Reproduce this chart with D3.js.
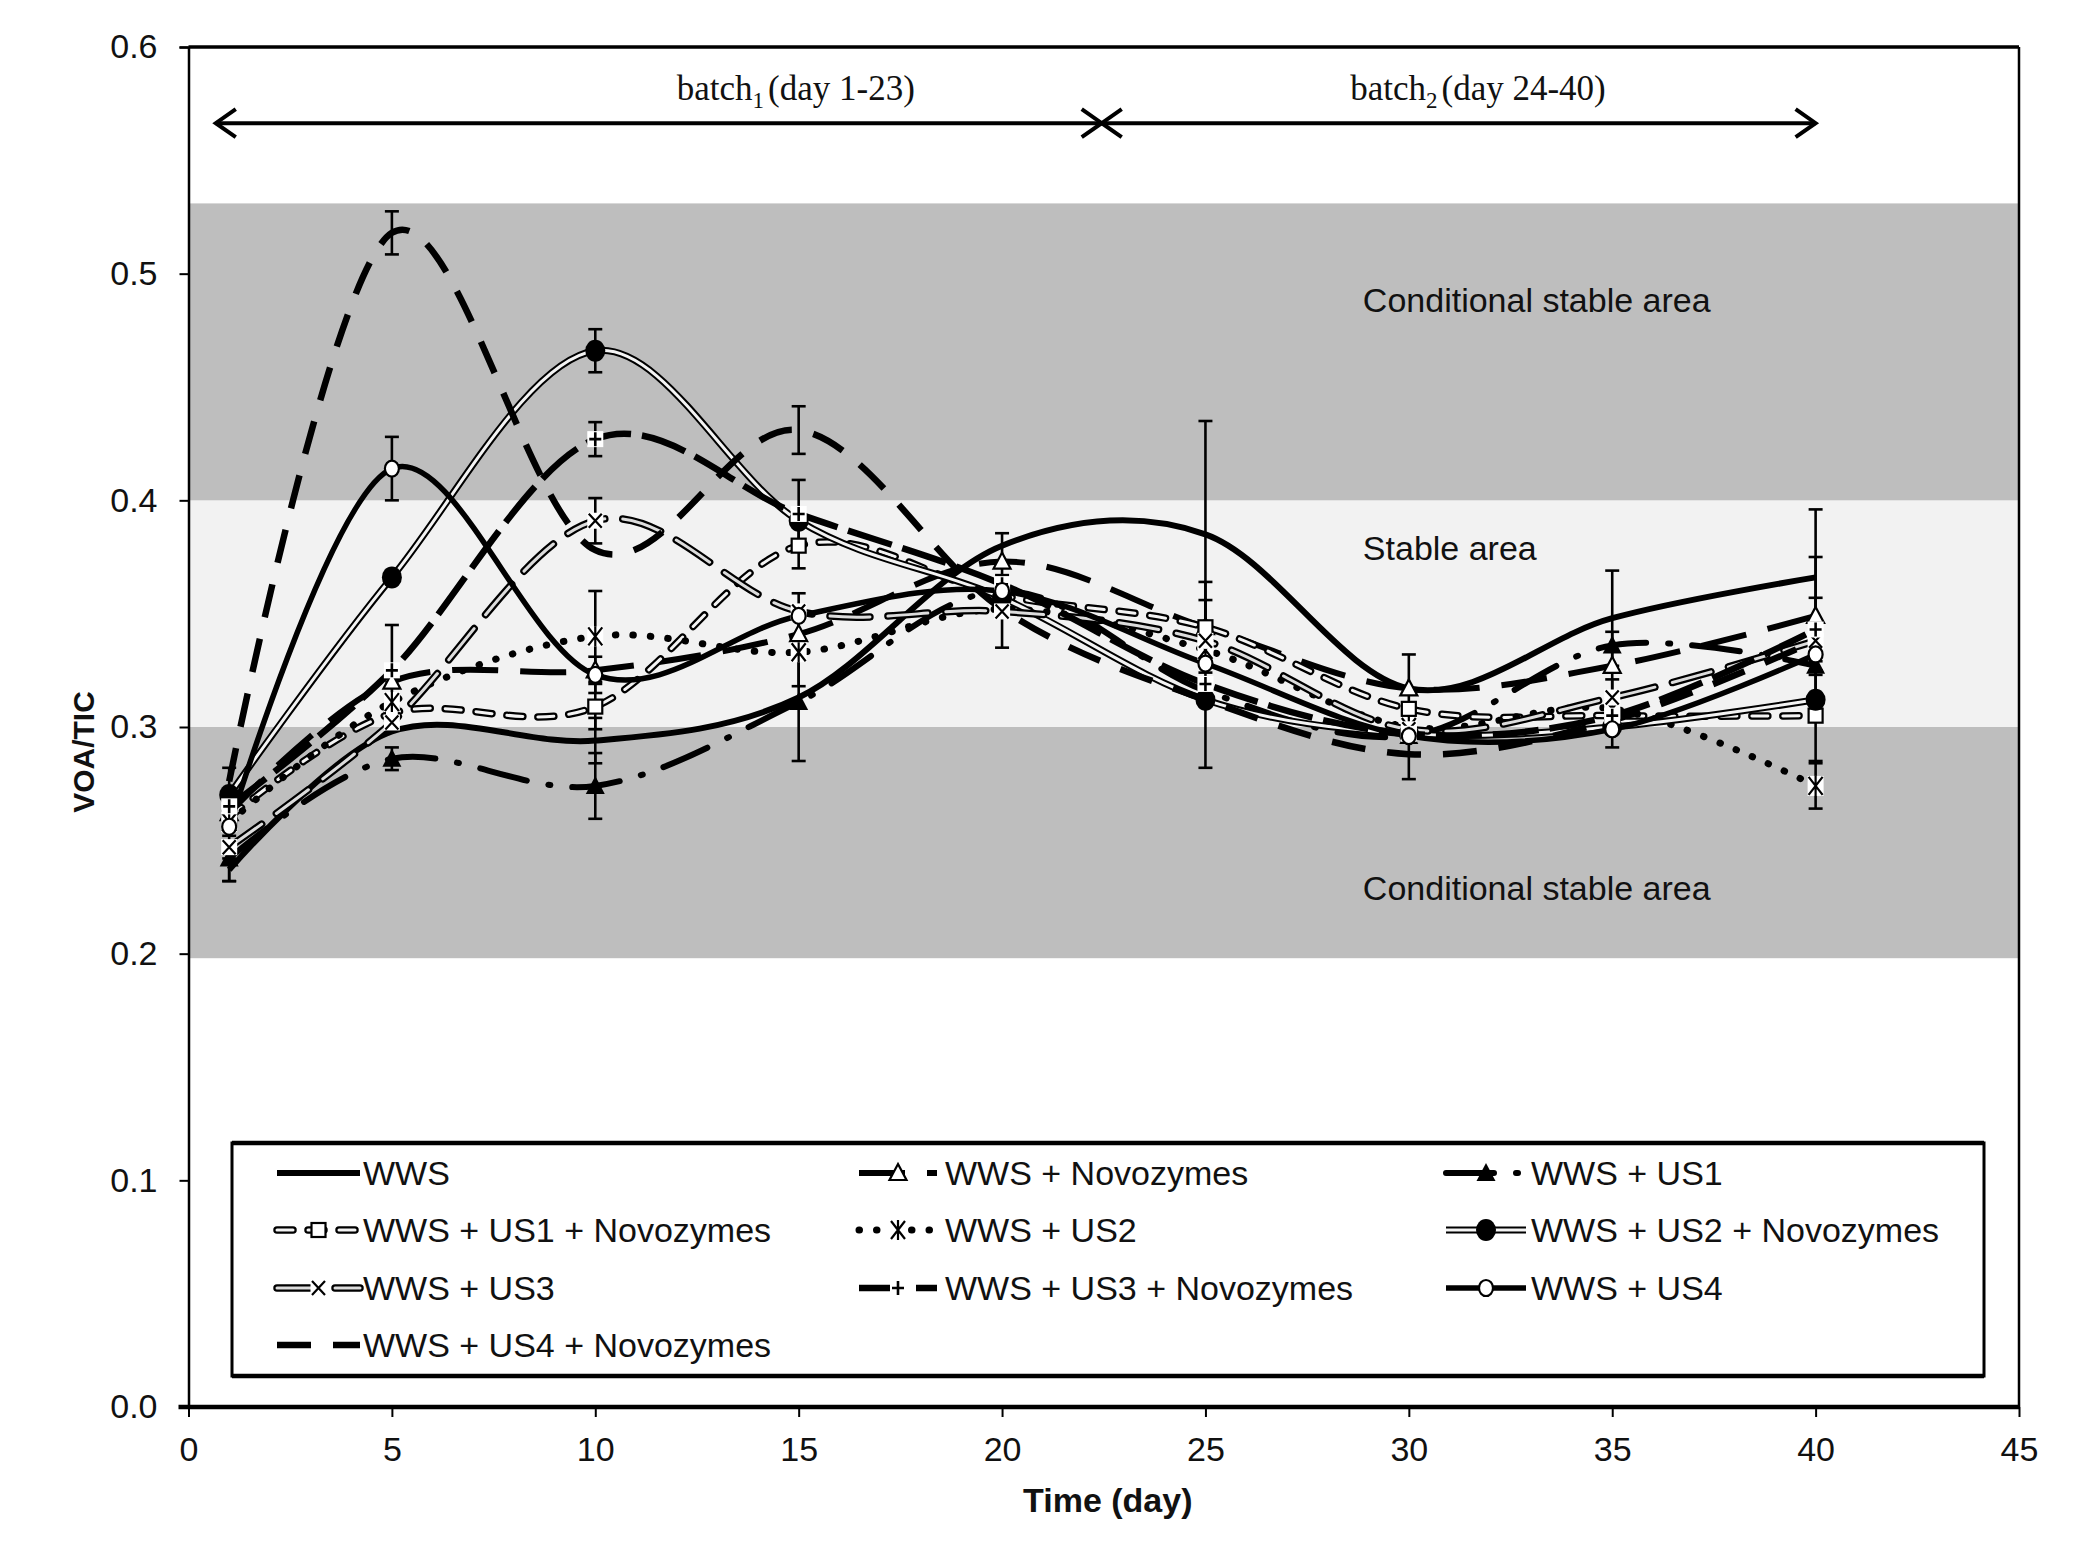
<!DOCTYPE html>
<html><head><meta charset="utf-8">
<script src="https://cdn.jsdelivr.net/npm/d3@7"></script>
<style>body{margin:0;background:#fff}svg{display:block}</style>
</head><body>
<svg id="chart" width="2097" height="1555"></svg>
<script>
// ---------------- data ----------------
const days = [1, 5, 10, 15, 20, 25, 30, 35, 40];
const seriesNames = ["WWS", "WWS + Novozymes", "WWS + US1", "WWS + US1 + Novozymes", "WWS + US2",
  "WWS + US2 + Novozymes", "WWS + US3", "WWS + US3 + Novozymes", "WWS + US4", "WWS + US4 + Novozymes"];
const wws      = [0.237, 0.298, 0.294, 0.313, 0.380, 0.385, 0.317, 0.348, 0.366];
const wwsNovo  = [0.262, 0.320, 0.325, 0.341, 0.373, 0.344, 0.317, 0.327, 0.349];
const us1      = [0.242, 0.286, 0.274, 0.311, 0.360, 0.316, 0.296, 0.336, 0.327];
const us1Novo  = [0.260, 0.306, 0.309, 0.380, 0.358, 0.344, 0.308, 0.305, 0.305];
const us2      = [0.258, 0.311, 0.340, 0.333, 0.352, 0.334, 0.300, 0.308, 0.274];
const us2Novo  = [0.270, 0.366, 0.466, 0.391, 0.357, 0.312, 0.297, 0.300, 0.312];
const us3      = [0.247, 0.302, 0.391, 0.351, 0.351, 0.338, 0.299, 0.313, 0.338];
const us3Novo  = [0.265, 0.325, 0.427, 0.394, 0.363, 0.319, 0.297, 0.305, 0.343];
const us4      = [0.256, 0.414, 0.323, 0.349, 0.360, 0.328, 0.296, 0.299, 0.332];
const us4Novo  = [0.276, 0.518, 0.378, 0.431, 0.352, 0.312, 0.288, 0.303, 0.338];
// +/- error values
const wwsErr     = [0.005, 0, 0.010, 0, 0, 0.050, 0, 0.021, 0.030];
const wwsNovoErr = [0, 0, 0, 0, 0.0125, 0, 0.015, 0.015, 0.026];
const us1Err     = [0.010, 0.005, 0.0145, 0.026, 0, 0, 0, 0, 0.020];
const us1NovoErr = [0, 0, 0.010, 0.010, 0, 0.020, 0, 0, 0.020];
const us2Err     = [0, 0, 0.020, 0.015, 0, 0, 0, 0, 0.010];
const us2NovoErr = [0.012, 0, 0.0095, 0, 0, 0, 0, 0, 0];
const us3Err     = [0, 0, 0.010, 0, 0.016, 0, 0, 0.008, 0];
const us3NovoErr = [0, 0.020, 0.0075, 0.015, 0, 0.037, 0, 0, 0.014];
const us4Err     = [0, 0.014, 0.008, 0.010, 0, 0, 0, 0.008, 0];
const us4NovoErr = [0, 0.0095, 0, 0.0105, 0, 0, 0.011, 0, 0];
const seriesValues = [wws, wwsNovo, us1, us1Novo, us2, us2Novo, us3, us3Novo, us4, us4Novo];
const seriesErrors = [wwsErr, wwsNovoErr, us1Err, us1NovoErr, us2Err, us2NovoErr, us3Err, us3NovoErr, us4Err, us4NovoErr];
const xTicks = [0, 5, 10, 15, 20, 25, 30, 35, 40, 45];
const yTicks = [0, 0.1, 0.2, 0.3, 0.4, 0.5, 0.6];
const bandBounds = [[0.198, 0.300, "dark"], [0.300, 0.400, "light"], [0.400, 0.531, "dark"]];
const bandLabels = ["Conditional stable area", "Stable area", "Conditional stable area"];
const batchRanges = [[0.67, 22.45], [22.45, 40]];
const batchLabels = [["batch", "1", "(day 1-23)"], ["batch", "2", "(day 24-40)"]];

// ---------------- styles ----------------
const styles = [
  {w: 6, dash: null, marker: null},
  {w: 6, dash: "46,22", marker: "triangle"},
  {w: 6, dash: "48,22,2,22", cap: "round", marker: "triangleFilled"},
  {w: 7.5, dash: "16,15", cap: "round", inner: 3, innerColor: "#f4f4f4", marker: "square"},
  {w: 7, dash: "0.5,17", cap: "round", marker: "asterisk"},
  {w: 7, dash: null, inner: 3, innerColor: "#f4f4f4", marker: "circleFilled"},
  {w: 7.5, dash: "40,18", cap: "round", inner: 3, innerColor: "#dcdcdc", marker: "x"},
  {w: 6.5, dash: "46,11", marker: "plus"},
  {w: 5.5, dash: null, marker: "circle"},
  {w: 6.5, dash: "34,22", marker: null}
];

const svg = d3.select("#chart");
const x = d3.scaleLinear().domain([0, 45]).range([188.5, 2019]);
const y = d3.scaleLinear().domain([0, 0.6]).range([1407, 47]);
const SANS = "'Liberation Sans', Arial, sans-serif";
const SERIF = "'Liberation Serif', 'Times New Roman', serif";

svg.append("rect").attr("width", 2097).attr("height", 1555).attr("fill", "#fff");

// bands
svg.append("g").selectAll("rect").data(bandBounds).join("rect")
  .attr("x", x(0)).attr("width", x(45) - x(0))
  .attr("y", d => y(d[1])).attr("height", d => y(d[0]) - y(d[1]))
  .attr("fill", d => d[2] === "dark" ? "#bebebe" : "#f2f2f2");

// band labels
const bandLabelY = [0.483, 0.3735, 0.2238];
svg.append("g").selectAll("text").data(bandLabels).join("text")
  .attr("x", x(28.87)).attr("y", (d, i) => y(bandLabelY[i]))
  .attr("font-family", SANS).attr("font-size", 34).attr("fill", "#111")
  .text(d => d);

// batch arrows
const arrowY = 0.5664;
const ag = svg.append("g").attr("stroke", "#000").attr("stroke-width", 4).attr("fill", "none");
batchRanges.forEach(r => {
  const x1 = x(r[0]), x2 = x(r[1]), yy = y(arrowY);
  ag.append("line").attr("x1", x1).attr("x2", x2).attr("y1", yy).attr("y2", yy);
  ag.append("path").attr("d", `M${x1 + 20},${yy - 14}L${x1},${yy}L${x1 + 20},${yy + 14}`);
  ag.append("path").attr("d", `M${x2 - 20},${yy - 14}L${x2},${yy}L${x2 - 20},${yy + 14}`);
});
const batchCenters = [14.93, 31.7];
batchLabels.forEach((b, i) => {
  const t = svg.append("text").attr("x", x(batchCenters[i])).attr("y", y(0.5765))
    .attr("text-anchor", "middle").attr("font-family", SERIF).attr("font-size", 35).attr("fill", "#111");
  t.append("tspan").text(b[0]);
  t.append("tspan").attr("font-size", 23).attr("dy", 8).text(b[1]);
  t.append("tspan").attr("dy", -8).attr("dx", 4).text(b[2]);
});

// lines
const line = d3.line().x(d => x(d[0])).y(d => y(d[1])).curve(d3.curveCardinal.tension(0));
const linesG = svg.append("g").attr("fill", "none");
function drawStroke(g, st, attrsFn) {
  const p = attrsFn(g.append("path"))
    .attr("stroke", "#000").attr("stroke-width", st.w)
    .attr("stroke-linecap", st.cap || "butt").attr("stroke-linejoin", "round");
  if (st.dash) p.attr("stroke-dasharray", st.dash);
  if (st.inner) {
    const q = attrsFn(g.append("path"))
      .attr("stroke", st.innerColor).attr("stroke-width", st.inner)
      .attr("stroke-linecap", st.cap || "butt").attr("stroke-linejoin", "round");
    if (st.dash) q.attr("stroke-dasharray", st.dash);
  }
}
seriesValues.forEach((vals, i) => {
  const pts = days.map((d, j) => [d, vals[j]]);
  drawStroke(linesG, styles[i], p => p.attr("d", line(pts)));
});

// error bars
const eg = svg.append("g").attr("stroke", "#000").attr("stroke-width", 2.6);
seriesValues.forEach((vals, i) => {
  days.forEach((d, j) => {
    const e = seriesErrors[i][j];
    if (!e) return;
    const cx = x(d), y1 = y(vals[j] + e), y2 = y(vals[j] - e);
    eg.append("line").attr("x1", cx).attr("x2", cx).attr("y1", y1).attr("y2", y2);
    eg.append("line").attr("x1", cx - 7).attr("x2", cx + 7).attr("y1", y1).attr("y2", y1);
    eg.append("line").attr("x1", cx - 7).attr("x2", cx + 7).attr("y1", y2).attr("y2", y2);
  });
});

// markers
function drawMarker(g, type, cx, cy) {
  const m = g.append("g").attr("transform", `translate(${cx},${cy})`);
  switch (type) {
    case "triangle":
      m.append("path").attr("d", "M0,-9L8.5,7L-8.5,7Z").attr("fill", "#fff").attr("stroke", "#000").attr("stroke-width", 2.2); break;
    case "triangleFilled":
      m.append("path").attr("d", "M0,-10L9.5,8L-9.5,8Z").attr("fill", "#000"); break;
    case "square":
      m.append("rect").attr("x", -7).attr("y", -7).attr("width", 14).attr("height", 14).attr("fill", "#fff").attr("stroke", "#000").attr("stroke-width", 2.2); break;
    case "asterisk":
      m.append("rect").attr("x", -8).attr("y", -10).attr("width", 16).attr("height", 20).attr("fill", "#fff");
      m.append("path").attr("d", "M-7,-9L7,9M7,-9L-7,9M0,-10L0,10").attr("stroke", "#000").attr("stroke-width", 2.2); break;
    case "circleFilled":
      m.append("ellipse").attr("rx", 10).attr("ry", 11).attr("fill", "#000"); break;
    case "x":
      m.append("rect").attr("x", -8).attr("y", -8).attr("width", 16).attr("height", 16).attr("fill", "#fff");
      m.append("path").attr("d", "M-6.5,-7L6.5,7M6.5,-7L-6.5,7").attr("stroke", "#000").attr("stroke-width", 2.2); break;
    case "plus":
      m.append("rect").attr("x", -8).attr("y", -8).attr("width", 16).attr("height", 16).attr("fill", "#fff");
      m.append("path").attr("d", "M-6,0L6,0M0,-7L0,7").attr("stroke", "#000").attr("stroke-width", 2.6); break;
    case "circle":
      m.append("ellipse").attr("rx", 7).attr("ry", 8).attr("fill", "#fff").attr("stroke", "#000").attr("stroke-width", 2.2); break;
  }
}
const mg = svg.append("g");
seriesValues.forEach((vals, i) => {
  if (!styles[i].marker) return;
  days.forEach((d, j) => drawMarker(mg, styles[i].marker, x(d), y(vals[j])));
});

// frame
svg.append("line").attr("x1", x(0)).attr("x2", x(45)).attr("y1", y(0.6)).attr("y2", y(0.6)).attr("stroke", "#000").attr("stroke-width", 3.5);
svg.append("line").attr("x1", x(45)).attr("x2", x(45)).attr("y1", y(0.6)).attr("y2", y(0)).attr("stroke", "#000").attr("stroke-width", 2.5);

// axes
const yAxis = svg.append("g").attr("transform", `translate(${x(0)},0)`)
  .call(d3.axisLeft(y).tickValues(yTicks).tickFormat(d3.format(".1f")).tickSize(9).tickPadding(22));
yAxis.select(".domain").attr("stroke-width", 2.5);
yAxis.selectAll(".tick line").attr("stroke-width", 2);
yAxis.selectAll("text").attr("font-family", SANS).attr("font-size", 34).attr("fill", "#111");

const xAxis = svg.append("g").attr("transform", `translate(0,${y(0)})`)
  .call(d3.axisBottom(x).tickValues(xTicks).tickFormat(d3.format("d")).tickSize(10).tickPadding(20));
xAxis.select(".domain").remove();
xAxis.selectAll(".tick line").attr("stroke-width", 2);
xAxis.selectAll("text").attr("font-family", SANS).attr("font-size", 34).attr("fill", "#111");
svg.append("line").attr("x1", x(0) - 10).attr("x2", x(45)).attr("y1", y(0)).attr("y2", y(0)).attr("stroke", "#000").attr("stroke-width", 4.5);

svg.append("text").attr("x", x(22.6)).attr("y", 1512).attr("text-anchor", "middle")
  .attr("font-family", SANS).attr("font-size", 34).attr("font-weight", "bold").attr("fill", "#111").text("Time (day)");
svg.append("text").attr("transform", `translate(94,752) rotate(-90)`).attr("text-anchor", "middle")
  .attr("font-family", SANS).attr("font-size", 30).attr("font-weight", "bold").attr("fill", "#111").text("VOA/TIC");

// legend
const lg = svg.append("g");
lg.append("rect").attr("x", 232).attr("y", 1143).attr("width", 1752).attr("height", 233)
  .attr("fill", "#fff").attr("stroke", "#000").attr("stroke-width", 3);
lg.append("line").attr("x1", 232).attr("x2", 1984).attr("y1", 1143).attr("y2", 1143).attr("stroke", "#000").attr("stroke-width", 4.5);
lg.append("line").attr("x1", 232).attr("x2", 1984).attr("y1", 1376).attr("y2", 1376).attr("stroke", "#000").attr("stroke-width", 4.5);
const colSym = [[277, 360], [859, 937], [1446, 1526]];
const colText = [363, 945, 1531];
const rowY = [1173, 1230, 1288, 1345];
seriesNames.forEach((name, i) => {
  const c = i % 3, r = Math.floor(i / 3);
  const yy = rowY[r];
  const g = lg.append("g");
  drawStroke(g, styles[i], p => p.attr("d", `M${colSym[c][0]},${yy}L${colSym[c][1]},${yy}`));
  if (styles[i].marker) drawMarker(g, styles[i].marker, (colSym[c][0] + colSym[c][1]) / 2, yy);
  g.append("text").attr("x", colText[c]).attr("y", yy + 12)
    .attr("font-family", SANS).attr("font-size", 34).attr("fill", "#111").text(name);
});
</script>
</body></html>
